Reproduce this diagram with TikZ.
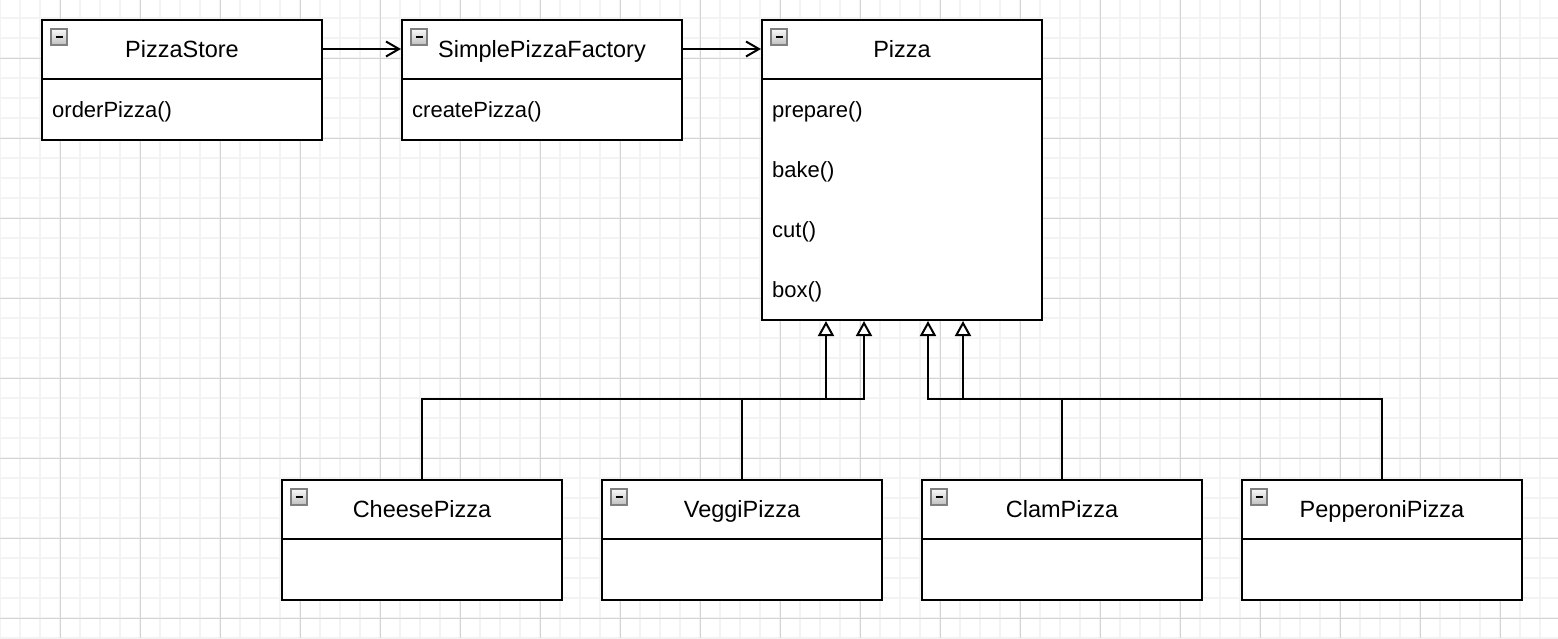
\documentclass[tikz,border=0pt]{standalone}
\usepackage{fontspec}
\setmainfont{Liberation Sans}
\usetikzlibrary{arrows.meta}
\definecolor{gridminor}{HTML}{F3F3F3}
\definecolor{gridmajor}{HTML}{D4D4D4}
\definecolor{iconborder}{HTML}{808080}
\tikzset{
  umlbox/.style={draw=black, line width=2pt, fill=white, minimum width=280pt, anchor=north west, inner sep=0pt},
  headtext/.style={font=\fontsize{23.5}{27}\selectfont, inner sep=0pt, anchor=base, text=black},
  membertext/.style={font=\fontsize{22}{26}\selectfont, inner sep=0pt, anchor=base west, text=black},
  sepline/.style={draw=black, line width=2pt},
  collapseicon/.style={draw=iconborder, line width=1.2pt, minimum size=16pt, inner sep=0pt,
    top color=gray!5, bottom color=gray!50,
    path picture={\draw[black, line width=2pt] ([xshift=-3.5pt]path picture bounding box.center) -- ([xshift=3.5pt]path picture bounding box.center);}},
  assoc/.style={draw=black, line width=2pt, -{Straight Barb[length=13pt,width=15pt]}},
  inherit/.style={draw=black, line width=2pt, -{Triangle[open,length=15pt,width=16pt,fill=white]}},
}
\begin{document}
\begin{tikzpicture}[x=1pt,y=-1pt]
\useasboundingbox (0,0) rectangle (1558,638);
\fill[white] (0,0) rectangle (1558,638);
\begin{scope}
\clip (0,0) rectangle (1558,638);
\foreach \x in {0,20,...,1560} \draw[gridminor, line width=1.6pt] (\x,0) -- (\x,638);
\foreach \y in {-2,18,...,638} \draw[gridminor, line width=1.6pt] (0,\y) -- (1558,\y);
\foreach \x in {60,140,...,1540} \draw[gridmajor, line width=1pt] (\x,0) -- (\x,638);
\foreach \y in {58,138,...,618} \draw[gridmajor, line width=1pt] (0,\y) -- (1558,\y);
\end{scope}

% boxes
\node[umlbox, minimum height=120pt] (store) at (41,19) {};
\node[umlbox, minimum height=120pt] (factory) at (401,19) {};
\node[umlbox, minimum height=300pt] (pizza) at (761,19) {};
\node[umlbox, minimum height=120pt] (cheese) at (281,479) {};
\node[umlbox, minimum height=120pt] (veggi) at (601,479) {};
\node[umlbox, minimum height=120pt] (clam) at (921,479) {};
\node[umlbox, minimum height=120pt] (pepperoni) at (1241,479) {};

% separators, icons, titles
\foreach \b/\t in {store/PizzaStore, factory/SimplePizzaFactory, pizza/Pizza, cheese/CheesePizza, veggi/VeggiPizza, clam/ClamPizza, pepperoni/PepperoniPizza}{
  \draw[sepline] ([yshift=-60pt]\b.north west) -- ([yshift=-60pt]\b.north east);
  \node[collapseicon] (\b-icon) at ([xshift=18pt,yshift=-18pt]\b.north west) {};
  \node[headtext] (\b-title) at ([yshift=-38pt]\b.north) {\t};
}

% members
\node[membertext] (store-m1) at ([xshift=11pt,yshift=-98pt]store.north west) {orderPizza()};
\node[membertext] (factory-m1) at ([xshift=11pt,yshift=-98pt]factory.north west) {createPizza()};
\node[membertext] (pizza-m1) at ([xshift=11pt,yshift=-98pt]pizza.north west) {prepare()};
\node[membertext] (pizza-m2) at ([xshift=11pt,yshift=-158pt]pizza.north west) {bake()};
\node[membertext] (pizza-m3) at ([xshift=11pt,yshift=-218pt]pizza.north west) {cut()};
\node[membertext] (pizza-m4) at ([xshift=11pt,yshift=-278pt]pizza.north west) {box()};

% associations
\draw[assoc] ([yshift=-30pt]store.north east) -- ([yshift=-30pt]factory.north west);
\draw[assoc] ([yshift=-30pt]factory.north east) -- ([yshift=-30pt]pizza.north west);

% generalizations
\draw[inherit] (cheese.north) -- ++(0,-80) -| ([xshift=-76pt]pizza.south);
\draw[inherit] (veggi.north) -- ++(0,-80) -| ([xshift=-38pt]pizza.south);
\draw[inherit] (clam.north) -- ++(0,-80) -| ([xshift=26pt]pizza.south);
\draw[inherit] (pepperoni.north) -- ++(0,-80) -| ([xshift=61pt]pizza.south);
\end{tikzpicture}
\end{document}
